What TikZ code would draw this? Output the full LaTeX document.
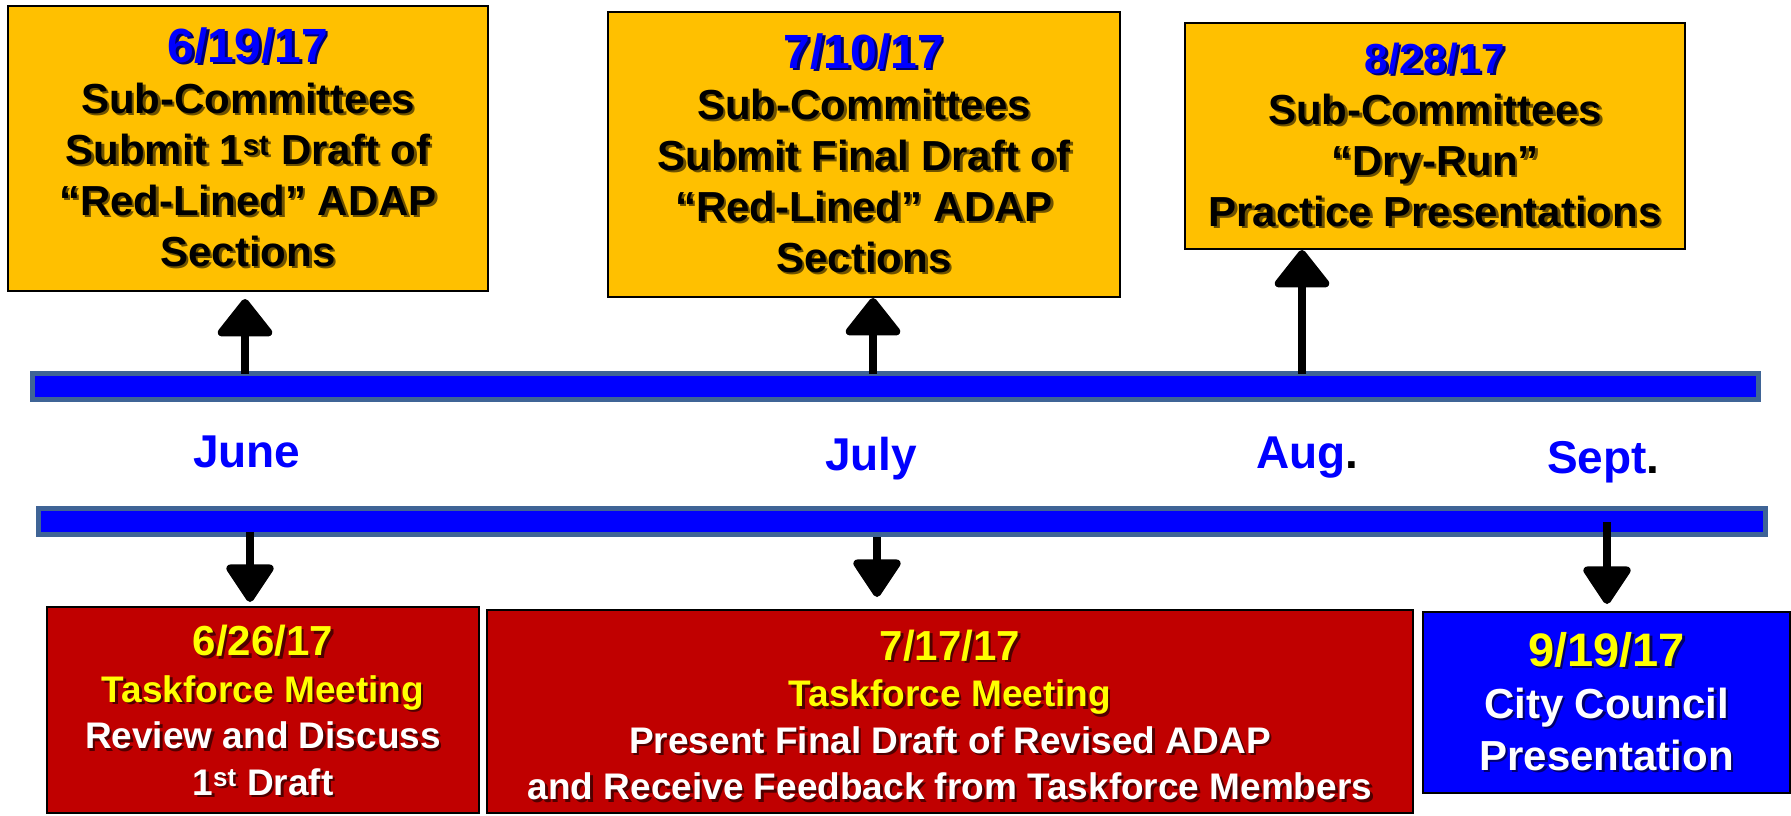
\documentclass[tikz,border=0pt]{standalone}
\usepackage{fontspec}
\setmainfont{Liberation Sans}
\usetikzlibrary{arrows.meta}
\definecolor{boxorange}{RGB}{255,192,0}
\definecolor{boxred}{RGB}{192,0,0}
\definecolor{pureblue}{RGB}{0,0,255}
\definecolor{baredge}{RGB}{63,100,150}
\definecolor{txtyellow}{RGB}{255,255,0}
\definecolor{osh}{RGB}{110,82,0}
\definecolor{rsh}{RGB}{80,0,0}
\definecolor{bsh}{RGB}{0,0,110}
\newcommand\shd[3]{\leavevmode\rlap{\kern2.5pt\raisebox{-2.5pt}{\textcolor{#2}{#3}}}\textcolor{#1}{#3}}
\tikzset{
  evbox/.style={draw=black, line width=2pt, inner sep=0pt, align=center},
  obox/.style={evbox, fill=boxorange, font=\fontsize{42}{51}\selectfont\bfseries},
  rbox/.style={evbox, fill=boxred, font=\fontsize{37}{46.5}\selectfont\bfseries},
  bbox/.style={evbox, fill=pureblue, font=\fontsize{42}{52}\selectfont\bfseries},
  tbar/.style={draw=baredge, line width=5pt, fill=pureblue, inner sep=0pt, outer sep=0pt},
  month/.style={anchor=base west, inner sep=0pt, text=pureblue, font=\fontsize{46}{50}\selectfont\bfseries},
  uparr/.style={line width=8pt, -{Triangle[width=61pt,length=40pt,round]}},
  downarr/.style={line width=8pt, -{Triangle[width=52pt,length=41pt,round]}}
}
\begin{document}
\begin{tikzpicture}[x=1pt,y=-1pt]
\useasboundingbox (0,0) rectangle (1791,815);

% top boxes
\node[obox, minimum width=480pt, minimum height=285pt] (b1) at (248,148.5)
 {\shd{pureblue}{bsh}{\fontsize{48}{51}\selectfont 6/19/17}\\
  \shd{black}{osh}{Sub-Committees}\\
  \shd{black}{osh}{Submit 1\textsuperscript{st} Draft of}\\
  \shd{black}{osh}{“Red-Lined” ADAP}\\
  \shd{black}{osh}{Sections}};
\node[obox, minimum width=512pt, minimum height=285pt] (b2) at (864,154.5)
 {\shd{pureblue}{bsh}{\fontsize{48}{51}\selectfont 7/10/17}\\
  \shd{black}{osh}{Sub-Committees}\\
  \shd{black}{osh}{Submit Final Draft of}\\
  \shd{black}{osh}{“Red-Lined” ADAP}\\
  \shd{black}{osh}{Sections}};
\node[obox, minimum width=500pt, minimum height=226pt] (b3) at (1435,136)
 {\shd{pureblue}{bsh}{8/28/17}\\
  \shd{black}{osh}{Sub-Committees}\\
  \shd{black}{osh}{“Dry-Run”}\\
  \shd{black}{osh}{Practice Presentations}};

% timeline bars
\node[tbar, minimum width=1726pt, minimum height=26pt] (topbar) at (895.5,386.5) {};
\node[tbar, minimum width=1727pt, minimum height=26pt] (botbar) at (902,521.5) {};

% months
\node[month] (june) at (193,467) {June};
\node[month] (july) at (825,470) {July};
\node[month] (aug) at (1256,468) {Aug\textcolor{black}{.}};
\node[month] (sept) at (1547,473) {Sept\textcolor{black}{.}};

% bottom boxes
\node[rbox, minimum width=432pt, minimum height=206pt] (b4) at (263,710)
 {\shd{txtyellow}{rsh}{\fontsize{42}{46.5}\selectfont\rule{0pt}{34pt}6/26/17}\\
  \shd{txtyellow}{rsh}{Taskforce Meeting}\\
  \shd{white}{rsh}{Review and Discuss}\\
  \shd{white}{rsh}{1\textsuperscript{st} Draft}};
\node[rbox, minimum width=926pt, minimum height=203pt] (b5) at (950,711.5)
 {\shd{txtyellow}{rsh}{\fontsize{42}{46.5}\selectfont\rule{0pt}{40pt}7/17/17}\\
  \shd{txtyellow}{rsh}{Taskforce Meeting}\\
  \shd{white}{rsh}{Present Final Draft of Revised ADAP}\\
  \shd{white}{rsh}{and Receive Feedback from Taskforce Members}};
\node[bbox, minimum width=367pt, minimum height=181pt] (b6) at (1606.5,702.5)
 {\shd{txtyellow}{bsh}{\fontsize{47}{52}\selectfont 9/19/17}\\
  \shd{white}{bsh}{City Council}\\
  \shd{white}{bsh}{Presentation}};

% arrow positions
\coordinate (x1) at (245,0);
\coordinate (x2) at (873,0);
\coordinate (x3) at (1302,0);
\coordinate (x4) at (250,0);
\coordinate (x5) at (877,0);
\coordinate (x6) at (1607,0);

% up arrows
\draw[uparr, shorten >=7pt] (topbar.north -| x1) -- (b1.south -| x1);
\draw[uparr] (topbar.north -| x2) -- (b2.south -| x2);
\draw[uparr] (topbar.north -| x3) -- (b3.south -| x3);

% down arrows
\draw[downarr, shorten <=-2.5pt, shorten >=4pt] (botbar.south -| x4) -- (b4.north -| x4);
\draw[downarr, shorten <=2.5pt, shorten >=12pt] (botbar.south -| x5) -- (b5.north -| x5);
\draw[downarr, shorten <=-12.5pt, shorten >=7pt] (botbar.south -| x6) -- (b6.north -| x6);
\end{tikzpicture}
\end{document}
